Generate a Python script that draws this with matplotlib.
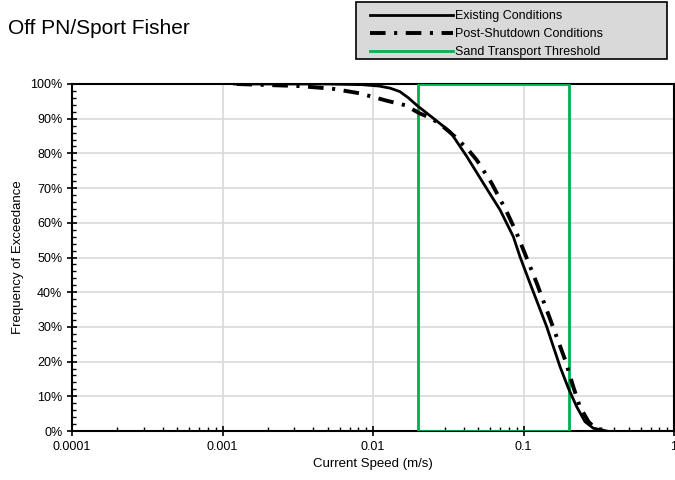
import numpy as np
import matplotlib
matplotlib.use("Agg")
import matplotlib.pyplot as plt
from matplotlib.patches import Rectangle
from matplotlib.ticker import FixedLocator, FuncFormatter, MultipleLocator, LogLocator, NullFormatter

plt.rcParams['font.family'] = ['Liberation Sans', 'DejaVu Sans']

title = "Off PN/Sport Fisher"
xlabel = "Current Speed (m/s)"
ylabel = "Frequency of Exceedance"
x_ticks = [0.0001, 0.001, 0.01, 0.1, 1]
x_tick_labels = ['0.0001', '0.001', '0.01', '0.1', '1']

# Existing conditions
exist_speed = [0.0012, 0.005, 0.0085, 0.011, 0.013, 0.0151, 0.0172, 0.0195, 0.0252, 0.0325, 0.042, 0.0541,
               0.0699, 0.0856, 0.0948, 0.1104, 0.1425, 0.175, 0.1988, 0.2256, 0.256, 0.291, 0.357]
exist_freq = [100, 100, 99.8, 99.4, 98.8, 97.8, 96.0, 93.9, 90.1, 86.3, 79.1, 71.4,
              63.7, 56.0, 50.2, 42.6, 30.1, 18.5, 12.3, 7.0, 2.7, 0.8, 0.0]

# Post-shutdown conditions
post_speed = [0.00124, 0.00327, 0.00545, 0.0082, 0.0123, 0.0163, 0.0205, 0.0245, 0.0293, 0.0351,
              0.043, 0.0489, 0.0614, 0.0773, 0.0901, 0.102, 0.1225, 0.154, 0.189, 0.214,
              0.237, 0.27, 0.299, 0.37]
post_freq = [100, 99.4, 98.6, 97.3, 95.2, 93.9, 91.5, 90.1, 87.7, 84.8,
             81.0, 78.1, 71.4, 63.2, 57.0, 51.2, 42.6, 31.0, 20.5, 12.8,
             7.0, 2.7, 0.8, 0.0]

# Sand transport threshold box
thresh_speed = [0.02, 0.02, 0.2, 0.2, 0.02]
thresh_freq = [0, 100, 100, 0, 0]

fig = plt.figure(figsize=(6.75, 4.8), dpi=100)
ax = fig.add_axes([72/675, 1-431/480, (674-72)/675, (431-84)/480])

l1, = ax.plot(exist_speed, exist_freq, color='black', lw=2.0, label='Existing Conditions', zorder=4)
l2, = ax.plot(post_speed, post_freq, color='black', lw=2.8, linestyle=(0, (4, 2.2, 0.8, 2.2)),
              label='Post-Shutdown Conditions', zorder=4)
l3, = ax.plot(thresh_speed, thresh_freq, color='#00b050', lw=2.0, label='Sand Transport Threshold', zorder=3)

ax.set_xscale('log')
ax.set_xlim(0.0001, 1)
ax.set_ylim(0, 100)

ax.xaxis.set_major_locator(FixedLocator(x_ticks))
ax.xaxis.set_major_formatter(FuncFormatter(lambda v, p: x_tick_labels[p] if p is not None and p < len(x_tick_labels) else ''))
ax.xaxis.set_minor_locator(LogLocator(base=10, subs=np.arange(2, 10)))
ax.xaxis.set_minor_formatter(NullFormatter())
ax.yaxis.set_major_locator(MultipleLocator(10))
ax.yaxis.set_minor_locator(MultipleLocator(2))
ax.yaxis.set_major_formatter(FuncFormatter(lambda v, p: f"{int(round(v))}%"))

ax.tick_params(axis='both', which='major', direction='inout', length=7, width=1.2, labelsize=9, colors='black')
ax.tick_params(axis='both', which='minor', direction='in', length=3, width=1.0)
ax.tick_params(axis='x', which='major', pad=4)

ax.grid(True, which='major', color='#d9d9d9', lw=1.2)
ax.set_axisbelow(True)
for s in ax.spines.values():
    s.set_color('black')
    s.set_linewidth(1.5)

ax.set_xlabel(xlabel, fontsize=9.5, labelpad=3)
ax.set_ylabel(ylabel, fontsize=9.5, labelpad=4)

fig.text(8/675, 1-28/480, title, fontsize=15, ha='left', va='center')

# legend box
box = Rectangle((356/675, 1-59/480), (667-356)/675, 57/480, transform=fig.transFigure,
                facecolor='#d9d9d9', edgecolor='black', lw=1.2, zorder=0)
fig.patches.append(box)
leg = fig.legend(handles=[l1, l2, l3], loc='upper left',
                 bbox_to_anchor=(370/675, 1-10/480),
                 fontsize=9, frameon=False, handlelength=6.6,
                 handletextpad=0.2, labelspacing=0.5, borderpad=0, borderaxespad=0)

fig.savefig('out.png', dpi=100)
